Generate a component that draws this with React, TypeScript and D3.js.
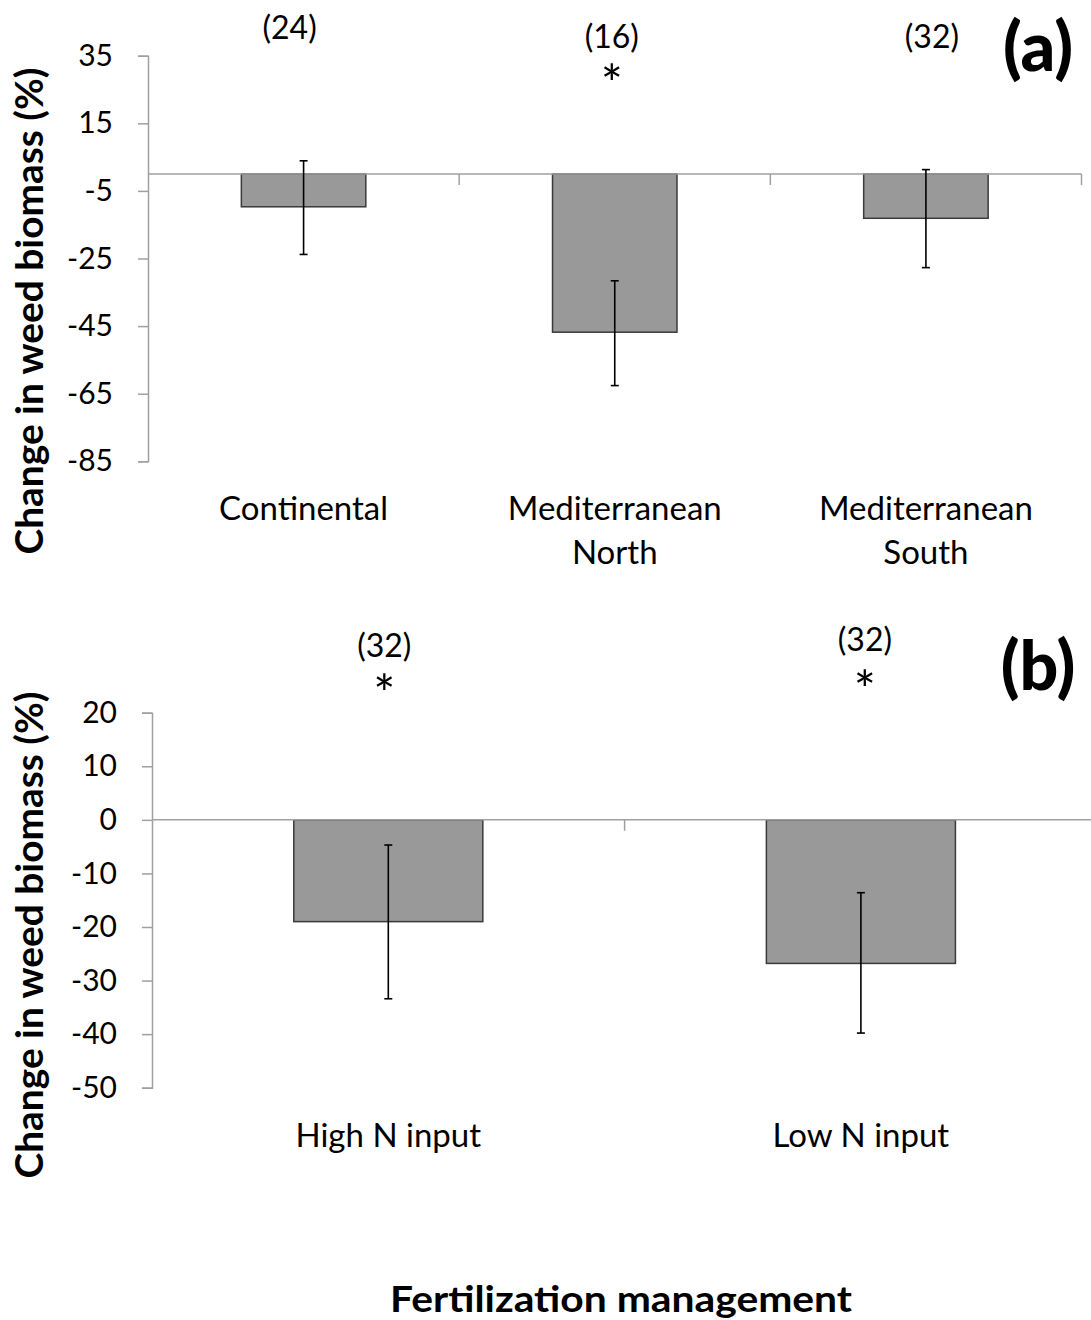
import React, { useEffect, useRef } from "react";
import * as d3 from "d3";

// Panel (a): climate regions
const regionCategories = ["Continental", "Mediterranean\nNorth", "Mediterranean\nSouth"];
const regionMeans = [-9.7, -46.8, -13.1];
const regionLower = [-23.8, -62.6, -27.7];
const regionUpper = [3.9, -31.6, 1.3];
const regionN = ["(24)", "(16)", "(32)"];
const regionSig = [false, true, false];
const regionTicks = [35, 15, -5, -25, -45, -65, -85];

// Panel (b): fertilization management
const fertCategories = ["High N input", "Low N input"];
const fertMeans = [-19.0, -26.8];
const fertLower = [-33.4, -39.8];
const fertUpper = [-4.7, -13.6];
const fertN = ["(32)", "(32)"];
const fertSig = [true, true];
const fertTicks = [20, 10, 0, -10, -20, -30, -40, -50];

const FONT = "Lato, 'Open Sans', sans-serif";
const AXIS_COLOR = "#a0a0a0";

type PanelSpec = {
  cats: string[];
  means: number[];
  lo: number[];
  hi: number[];
  nLabels: string[];
  sig: boolean[];
  ticks: number[];
  domain: [number, number];
  yRange: [number, number];
  xRange: [number, number];
  axisEnd: number;
  letter: string;
  letterX: number;
  letterY: number;
  titleCenter: number;
  nOffsets: { dx: number; dy: number; sdy: number }[];
};

export default function App() {
  const ref = useRef<SVGSVGElement | null>(null);

  useEffect(() => {
    const svg = d3.select(ref.current);
    svg.selectAll("*").remove();

    const panels: PanelSpec[] = [
      {
        cats: regionCategories,
        means: regionMeans,
        lo: regionLower,
        hi: regionUpper,
        nLabels: regionN,
        sig: regionSig,
        ticks: regionTicks,
        domain: [-85, 35],
        yRange: [461.3, 55.7],
        xRange: [148, 1081.5],
        axisEnd: 1081.5,
        letter: "(a)",
        letterX: 1038,
        letterY: 71,
        titleCenter: 311,
        nOffsets: [
          { dx: -14, dy: -17, sdy: 0 },
          { dx: -3, dy: -8, sdy: 55 },
          { dx: 6, dy: -7.5, sdy: 0 },
        ],
      },
      {
        cats: fertCategories,
        means: fertMeans,
        lo: fertLower,
        hi: fertUpper,
        nLabels: fertN,
        sig: fertSig,
        ticks: fertTicks,
        domain: [-50, 20],
        yRange: [1087.7, 712.7],
        xRange: [152, 1097.2],
        axisEnd: 1097.2,
        letter: "(b)",
        letterX: 1038,
        letterY: 690,
        titleCenter: 935,
        nOffsets: [
          { dx: -4, dy: -55.5, sdy: 56 },
          { dx: 4, dy: -61.5, sdy: 58 },
        ],
      },
    ];

    panels.forEach((p) => {
      const y = d3.scaleLinear().domain(p.domain).range(p.yRange);
      const x = d3.scaleBand<string>().domain(p.cats).range(p.xRange).padding(0);
      const bw = x.bandwidth() * 0.4;
      const g = svg.append("g");
      const y0 = y(0);

      // y axis
      const yAxis = d3
        .axisLeft(y)
        .tickValues(p.ticks)
        .tickSize(10)
        .tickPadding(25)
        .tickFormat((d) => String(d));
      const ya = g.append("g").attr("transform", `translate(${p.xRange[0]},0)`).call(yAxis);
      ya.select(".domain").attr("stroke", AXIS_COLOR).attr("stroke-width", 1.5);
      ya.selectAll(".tick line").attr("stroke", AXIS_COLOR).attr("stroke-width", 1.5);
      ya.selectAll(".tick text")
        .attr("font-family", FONT)
        .attr("font-size", 30)
        .attr("fill", "#000");

      // bars
      g.selectAll("rect.bar")
        .data(p.cats)
        .enter()
        .append("rect")
        .attr("x", (d) => (x(d) as number) + x.bandwidth() / 2 - bw / 2)
        .attr("y", y0)
        .attr("width", bw)
        .attr("height", (_d, i) => y(p.means[i]) - y0)
        .attr("fill", "#999999")
        .attr("stroke", "#3a3a3a")
        .attr("stroke-width", 1.5);

      // x axis line at zero
      g.append("line")
        .attr("x1", p.xRange[0])
        .attr("x2", p.axisEnd)
        .attr("y1", y0)
        .attr("y2", y0)
        .attr("stroke", AXIS_COLOR)
        .attr("stroke-width", 1.5);
      // x ticks at band boundaries
      const bounds = p.cats.map((c) => (x(c) as number) + x.bandwidth());
      g.selectAll("line.xt")
        .data(bounds)
        .enter()
        .append("line")
        .attr("x1", (d) => d)
        .attr("x2", (d) => d)
        .attr("y1", y0)
        .attr("y2", y0 + 11)
        .attr("stroke", AXIS_COLOR)
        .attr("stroke-width", 1.5);

      // error bars
      p.cats.forEach((c, i) => {
        const cx = (x(c) as number) + x.bandwidth() / 2;
        const eg = g.append("g").attr("stroke", "#000").attr("stroke-width", 1.6);
        eg.append("line").attr("x1", cx).attr("x2", cx).attr("y1", y(p.hi[i])).attr("y2", y(p.lo[i]));
        eg.append("line").attr("x1", cx - 4).attr("x2", cx + 4).attr("y1", y(p.hi[i])).attr("y2", y(p.hi[i]));
        eg.append("line").attr("x1", cx - 4).attr("x2", cx + 4).attr("y1", y(p.lo[i])).attr("y2", y(p.lo[i]));
      });

      // category labels
      p.cats.forEach((c) => {
        const cx = (x(c) as number) + x.bandwidth() / 2;
        const t = g
          .append("text")
          .attr("x", cx)
          .attr("y", p.yRange[0] + 59)
          .attr("text-anchor", "middle")
          .attr("font-family", FONT)
          .attr("font-size", 33)
          .attr("fill", "#000");
        c.split("\n").forEach((line, li) => {
          t.append("tspan").attr("x", cx).attr("dy", li === 0 ? 0 : 44).text(line);
        });
      });

      // n labels and significance
      p.cats.forEach((c, i) => {
        const cx = (x(c) as number) + x.bandwidth() / 2 + p.nOffsets[i].dx;
        const base = p.yRange[1] + p.nOffsets[i].dy;
        g.append("text")
          .attr("x", cx)
          .attr("y", base)
          .attr("text-anchor", "middle")
          .attr("font-family", FONT)
          .attr("font-size", 32)
          .attr("fill", "#000")
          .text(p.nLabels[i]);
        if (p.sig[i]) {
          g.append("text")
            .attr("x", cx)
            .attr("y", base + p.nOffsets[i].sdy)
            .attr("text-anchor", "middle")
            .attr("font-family", FONT)
            .attr("font-size", 52)
            .attr("fill", "#000")
            .text("*");
        }
      });

      // panel letter
      g.append("text")
        .attr("x", p.letterX)
        .attr("y", p.letterY)
        .attr("text-anchor", "middle")
        .attr("font-family", FONT)
        .attr("font-weight", 900)
        .attr("font-size", 68)
        .attr("fill", "#000")
        .text(p.letter);

      // y title
      g.append("text")
        .attr("transform", `translate(43,${p.titleCenter}) rotate(-90)`)
        .attr("text-anchor", "middle")
        .attr("font-family", FONT)
        .attr("font-weight", 700)
        .attr("font-size", 38)
        .attr("textLength", 487)
        .attr("lengthAdjust", "spacingAndGlyphs")
        .attr("fill", "#000")
        .text("Change in weed biomass (%)");
    });

    // bottom title
    svg
      .append("text")
      .attr("x", 621)
      .attr("y", 1312)
      .attr("text-anchor", "middle")
      .attr("font-family", FONT)
      .attr("font-weight", 700)
      .attr("font-size", 37)
      .attr("textLength", 462)
      .attr("lengthAdjust", "spacingAndGlyphs")
      .attr("fill", "#000")
      .text("Fertilization management");
  }, []);

  return (
    <svg
      ref={ref}
      width={1091}
      height={1320}
      style={{ position: "absolute", left: 0, top: 0, background: "#fff" }}
    />
  );
}
